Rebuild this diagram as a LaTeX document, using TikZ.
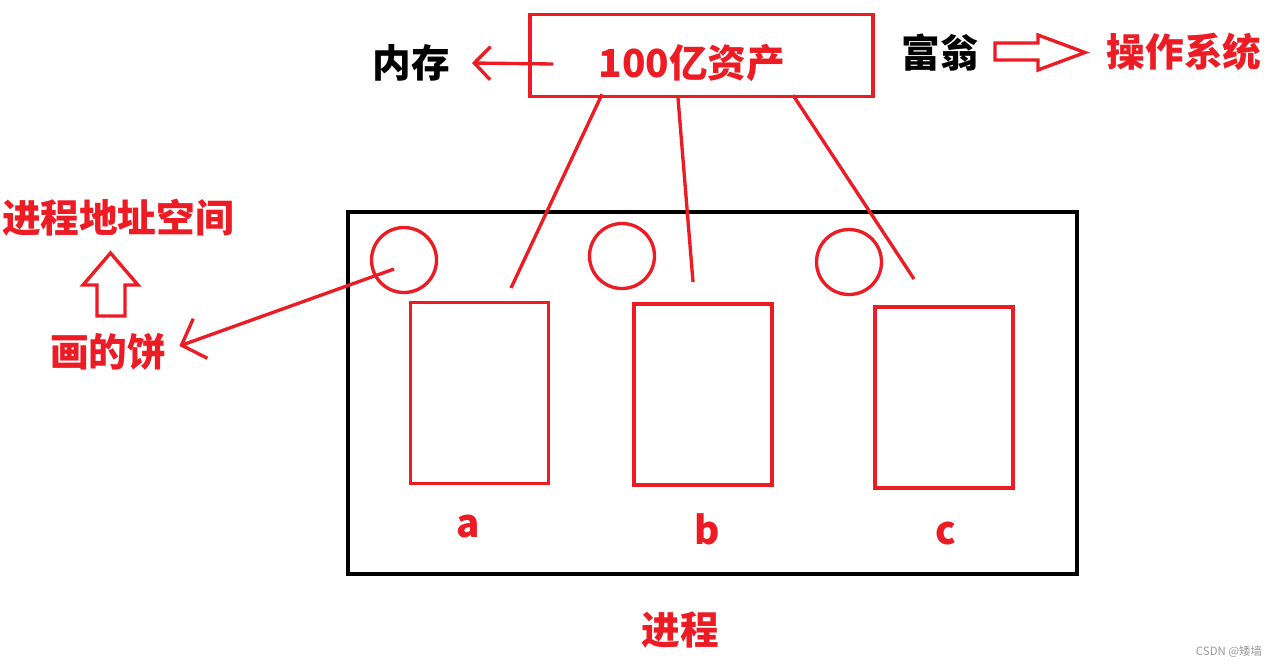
\documentclass[tikz,border=0pt]{standalone}
\usepackage{fontspec}
\newfontfamily\cjk{Noto Sans CJK SC}
\usetikzlibrary{arrows.meta}
\usetikzlibrary{positioning}
\definecolor{paintred}{RGB}{237,28,36}

\begin{document}
\begin{tikzpicture}[x=0.02cm, y=-0.02cm]
            \tikzset{redline/.style={draw=paintred, line width=1.9pt},
                bigtext/.style={font=\cjk\bfseries\fontsize{22}{22}\selectfont, inner sep=0pt},
                redtext/.style={bigtext, text=paintred},
                blacktext/.style={bigtext, text=black},
                memory/.style={redline, minimum width=2.76cm, minimum height=3.62cm},
                page/.style={redline, circle, minimum size=1.3cm, inner sep=0pt}}
            \useasboundingbox (0,0) rectangle (1278,666);
            % top: the rich man and his money
            \node[redline, minimum width=6.86cm, minimum height=1.64cm] (asset) at (701.5,55.5) {};
            \node[redtext] (assettext) at (692,63) {100亿资产};
            \node[blacktext] (mem) at (411,63) {内存};
            \node[blacktext] (rich) at (940,53) {富翁};
            \node[redtext] (os) at (1184,52) {操作系统};
            \draw[redline, -{Straight Barb[length=0.32cm, width=0.66cm]}] ([shift={(25,8.5)}]asset.west) -- ([shift={(22,0)}]mem.east);
            \draw[redline, line join=miter] (995,43) -- (1038,43) -- (1038,35) -- (1085,52.5)
                -- (1038,70) -- (1038,60) -- (995,60) -- cycle;
            % the process
            \node[draw, line width=2.3pt, minimum width=14.58cm, minimum height=7.26cm] (proc) at (712.5,393) {};
            \node[redtext] (proctext) at (680,630) {进程};
            \node[page] (page1) at (404,260) {};
            \node[page] (page2) at (622,256) {};
            \node[page] (page3) at (849,262) {};
            \node[memory] (blka) at (479.5,393) {};
            \node[memory] (blkb) at (703,394.5) {};
            \node[memory] (blkc) at (944,397.5) {};
            \node[redtext, anchor=base] (laba) at (468,537) {a};
            \node[redtext, anchor=base] (labb) at (707,544) {b};
            \node[redtext, anchor=base] (labc) at (946,544) {c};
            \coordinate (enda) at (511,288);
            \coordinate (endb) at (693,282);
            \coordinate (endc) at (914,279);
            \draw[redline] ([shift={(-99.5,-4)}]asset.south) -- (enda);
            \draw[redline] ([shift={(-23.5,0)}]asset.south) -- (endb);
            \draw[redline] ([shift={(91.5,-3)}]asset.south) -- (endc);
            % left side
            \node[redtext] (space) at (118,218) {进程地址空间};
            \node[redtext] (pie) at (108,352) {画的饼};
            \draw[redline, line join=miter] (97,316) -- (97,285) -- (83,285) -- (110.5,253)
                -- (138,285) -- (125,285) -- (125,316) -- cycle;
            \draw[redline, -{Straight Barb[length=0.4cm, width=0.84cm]}] ([shift={(-10,9)}]page1.center) -- ([shift={(13,-6)}]pie.east);
            \node[font=\cjk\fontsize{6.5}{6.5}\selectfont, text=black!40, inner sep=0pt] (mark) at (1229,652) {CSDN @矮墙};
        \end{tikzpicture}
\end{document}
